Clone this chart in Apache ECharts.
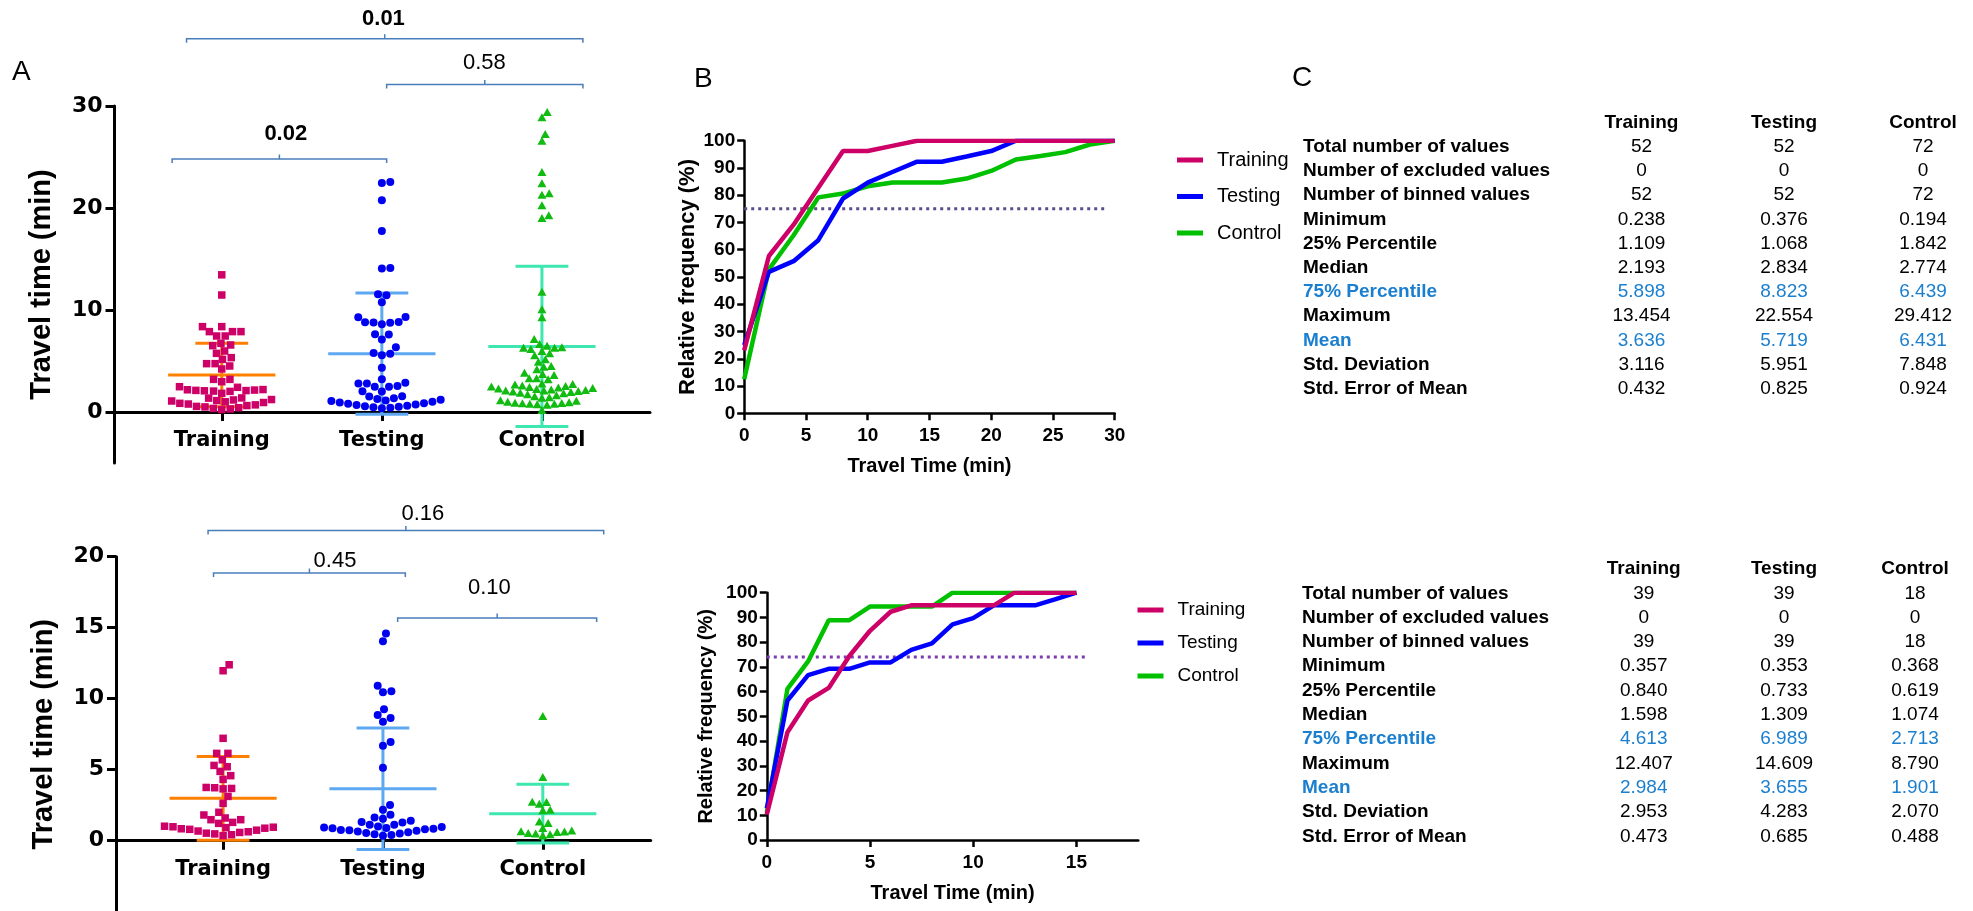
<!DOCTYPE html>
<html>
<head>
<meta charset="utf-8">
<title>Travel time</title>
<script src="https://cdn.jsdelivr.net/npm/echarts@6.0.0/dist/echarts.min.js"></script>
<style>
  html, body { margin: 0; padding: 0; background: #fff; }
  #chart { width: 1973px; height: 911px; }
</style>
</head>
<body>
<div id="chart"></div>
<script>
const groups = ['Training', 'Testing', 'Control']

// A (top): travel times in minutes, one value per trip
const topTraining = [13.45, 11.47, 8.37, 8.37, 7.88, 7.88, 7.88, 7.45, 7.45, 6.73, 6.57, 6.5, 5.98, 5.75, 5.33, 5.16,
  4.74, 4.74, 4.51, 4.22, 3.2, 3.2, 2.97, 2.48, 2.42, 2.2, 2.18, 2.15, 2.12, 2.1, 2.08, 2.05, 2.02, 1.83, 1.38, 1.36,
  1.22, 1.18, 1.12, 1.08, 1.0, 0.93, 0.85, 0.78, 0.7, 0.63, 0.55, 0.5, 0.42, 0.35, 0.3, 0.238]
const topTesting = [22.55, 22.45, 20.75, 17.75, 14.12, 14.06, 11.55, 11.45, 10.75, 9.31, 9.3, 8.82, 8.8, 8.78, 8.76, 8.6,
  7.62, 7.6, 7.12, 6.34, 5.78, 5.72, 5.56, 4.35, 3.2, 2.87, 2.8, 2.8, 2.55, 2.48, 2.47, 2.03, 2.02, 1.54, 1.53,
  1.34, 1.27, 1.2, 1.12, 1.07, 1.0, 0.94, 0.87, 0.8, 0.74, 0.68, 0.62, 0.57, 0.52, 0.47, 0.42, 0.376]
const topControl = [29.41, 28.9, 27.25, 26.6, 23.53, 22.42, 21.45, 21.3, 20.26, 19.3, 19.02, 11.8, 10.07, 9.28, 7.16,
  6.67, 6.5, 6.35, 6.3, 6.3, 6.18, 5.98, 5.75, 5.56, 5.16, 4.93, 4.51, 4.44, 4.18, 3.86, 3.72, 3.63, 3.3, 3.3, 3.2, 2.8,
  2.75, 2.7, 2.6, 2.55, 2.5, 2.45, 2.4, 2.35, 2.3, 2.25, 2.2, 2.15, 2.12, 2.1, 2.05, 2.0, 1.95, 1.88, 1.84,
  1.75, 1.65, 1.55, 1.45, 1.4, 1.15, 1.1, 1.0, 0.95, 0.9, 0.88, 0.85, 0.82, 0.8, 0.75, 0.72, 0.194]

// A (bottom)
const bottomTraining = [12.39, 11.97, 7.21, 6.15, 6.15, 5.7, 5.3, 5.21, 4.88, 4.58, 4.32, 3.75, 3.73, 3.68, 3.65, 3.12,
  2.63, 2.0, 1.81, 1.6, 1.48, 1.48, 1.29, 1.22,
  1.02, 0.98, 0.95, 0.92, 0.88, 0.84, 0.8, 0.74, 0.68, 0.63, 0.58, 0.53, 0.48, 0.42, 0.357]
const bottomTesting = [14.6, 14.04, 10.92, 10.52, 10.45, 9.25, 8.85, 8.64, 8.38, 6.95, 6.69, 5.14, 2.51, 2.18, 1.83,
  1.64, 1.55, 1.41, 1.31, 1.29, 1.13, 1.13,
  1.0, 0.96, 0.93, 0.9, 0.87, 0.84, 0.8, 0.76, 0.73, 0.7, 0.65, 0.6, 0.55, 0.5, 0.45, 0.4, 0.353]
const bottomControl = [8.79, 4.48, 2.75, 2.72, 2.6, 2.18, 2.14, 1.35, 1.25, 0.89, 0.72, 0.66, 0.64, 0.62, 0.55, 0.5,
  0.45, 0.368]

// p-value brackets: [x from, x to, y] and label position [x, y], in data units
const bracketTextTop = ['0.01', '0.58', '0.02']
const bracketSpanTop = [[0.78, 3.256, 36.6], [2.03, 3.256, 32.1], [0.69, 2.03, 24.8]]
const bracketLabelTop = [[2.01, 38.5], [2.64, 34.25], [1.4, 27.3]]
const bracketTextBottom = ['0.16', '0.45', '0.10']
const bracketSpanBottom = [[0.906, 3.381, 21.85], [0.94, 2.14, 18.85], [2.092, 3.337, 15.68]]
const bracketLabelBottom = [[2.25, 23.0], [1.7, 19.72], [2.666, 17.82]]

const ticksTopA = [0, 10, 20, 30]
const ticksBottomA = [0, 5, 10, 15, 20]
const ticksBottomB = [0, 5, 10, 15]

// B: cumulative relative frequency (%)
const binsTop = [0, 2, 4, 6, 8, 10, 12, 14, 16, 18, 20, 22, 24, 26, 28, 30]
const cumTopTraining = [23.1, 57.7, 69.2, 82.7, 96.2, 96.2, 98.1, 100, 100, 100, 100, 100, 100, 100, 100, 100]
const cumTopTesting = [25.0, 51.9, 55.8, 63.5, 78.8, 84.6, 88.5, 92.3, 92.3, 94.2, 96.2, 100, 100, 100, 100, 100]
const cumTopControl = [12.5, 52.8, 65.3, 79.2, 80.6, 83.3, 84.7, 84.7, 84.7, 86.1, 88.9, 93.1, 94.4, 95.8, 98.6, 100]
const binsBottom = [0, 1, 2, 3, 4, 5, 6, 7, 8, 9, 10, 11, 12, 13, 14, 15]
const cumBottomTraining = [10.3, 43.6, 56.4, 61.5, 74.4, 84.6, 92.3, 94.9, 94.9, 94.9, 94.9, 94.9, 100, 100, 100, 100]
const cumBottomTesting = [12.8, 56.4, 66.7, 69.2, 69.2, 71.8, 71.8, 76.9, 79.5, 87.2, 89.7, 94.9, 94.9, 94.9, 97.4, 100]
const cumBottomControl = [11.1, 61.1, 72.2, 88.9, 88.9, 94.4, 94.4, 94.4, 94.4, 100, 100, 100, 100, 100, 100, 100]
const refTop = [75, 29.2] // 75 % level, drawn up to x = 29.2
const refBottom = [74, 15.6]

// C: descriptive statistics
const statLabels = ['Total number of values', 'Number of excluded values', 'Number of binned values', 'Minimum',
  '25% Percentile', 'Median', '75% Percentile', 'Maximum', 'Mean', 'Std. Deviation', 'Std. Error of Mean']
const highlighted = ['75% Percentile', 'Mean']
const statsTopTraining = ['52', '0', '52', '0.238', '1.109', '2.193', '5.898', '13.454', '3.636', '3.116', '0.432']
const statsTopTesting = ['52', '0', '52', '0.376', '1.068', '2.834', '8.823', '22.554', '5.719', '5.951', '0.825']
const statsTopControl = ['72', '0', '72', '0.194', '1.842', '2.774', '6.439', '29.412', '6.431', '7.848', '0.924']
const statsBottomTraining = ['39', '0', '39', '0.357', '0.840', '1.598', '4.613', '12.407', '2.984', '2.953', '0.473']
const statsBottomTesting = ['39', '0', '39', '0.353', '0.733', '1.309', '6.989', '14.609', '3.655', '4.283', '0.685']
const statsBottomControl = ['18', '0', '18', '0.368', '0.619', '1.074', '2.713', '8.790', '1.901', '2.070', '0.488']

const pointColors = ['#cc0066', '#0000f0', '#11bb11']
const lineColors = ['#cc0066', '#0000ff', '#00c000']
const barColors = ['#ff8000', '#5ea8f2', '#3ee6b0']
const symbols = [['rect', 7.5], ['circle', 8], ['triangle', [9, 8]]]
const spacing = [8.5, 8.5, 7.4] // swarm spacing per group, px

const XMIN = 0.33
const XMAX = 3.675
const gridA = [
  { left: 114.5, top: 106, width: 535.5, height: 357, ymin: -5, ymax: 30 },
  { left: 116, top: 556.7, width: 534.7, height: 355, ymin: -5, ymax: 20 }
]

// beeswarm: spread points sideways so symbols do not overlap
function swarm (values, gi, cat) {
  const g = gridA[gi]
  const pxX = g.width / (XMAX - XMIN)
  const pxY = g.height / (g.ymax - g.ymin)
  const d = spacing[cat - 1]
  const placed = []
  values.slice().sort((a, b) => a - b).forEach(v => {
    const y = v * pxY
    const near = placed.filter(p => Math.abs(p.y - y) < d)
    const cands = [0]
    near.forEach(p => {
      const dx = Math.sqrt(d * d - (p.y - y) * (p.y - y))
      cands.push(p.x + dx, p.x - dx)
    })
    cands.sort((a, b) => Math.abs(a) - Math.abs(b))
    const x = cands.find(c => near.every(p => (p.x - c) * (p.x - c) + (p.y - y) * (p.y - y) >= d * d - 0.01))
    placed.push({ x, y, v })
  })
  return placed.map(p => [cat + p.x / pxX, p.v])
}

function renderErrorBar (params, api) {
  const cat = api.value(0)
  const mean = api.value(1)
  const sd = api.value(2)
  const top = api.coord([cat, mean + sd])
  const bot = api.coord([cat, mean - sd])
  const mid = api.coord([cat, mean])
  const halfMean = api.size([0.335, 0])[0]
  const halfCap = api.size([0.165, 0])[0]
  const style = { stroke: barColors[params.dataIndex], lineWidth: 3 }
  return {
    type: 'group',
    children: [
      { type: 'line', shape: { x1: top[0], y1: top[1], x2: bot[0], y2: bot[1] }, style },
      { type: 'line', shape: { x1: top[0] - halfCap, y1: top[1], x2: top[0] + halfCap, y2: top[1] }, style },
      { type: 'line', shape: { x1: bot[0] - halfCap, y1: bot[1], x2: bot[0] + halfCap, y2: bot[1] }, style },
      { type: 'line', shape: { x1: mid[0] - halfMean, y1: mid[1], x2: mid[0] + halfMean, y2: mid[1] }, style }
    ]
  }
}

function bracketRenderer (texts) {
  return function (params, api) {
    const a = api.coord([api.value(0), api.value(2)])
    const b = api.coord([api.value(1), api.value(2)])
    const lab = api.coord([api.value(3), api.value(4)])
    const mid = (a[0] + b[0]) / 2
    const text = texts[params.dataIndex]
    const stroke = { stroke: '#4a7ebb', lineWidth: 1.5, fill: null }
    return {
      type: 'group',
      children: [
        { type: 'polyline', shape: { points: [[a[0], a[1] + 4], a, b, [b[0], b[1] + 4]] }, style: stroke },
        { type: 'line', shape: { x1: mid, y1: a[1], x2: mid, y2: a[1] - 4.5 }, style: stroke },
        {
          type: 'text',
          x: lab[0],
          y: lab[1],
          style: {
            text,
            fill: '#000',
            fontFamily: 'Liberation Sans',
            fontSize: 22,
            fontWeight: Number(text) < 0.05 ? 'bold' : 'normal',
            align: 'center',
            verticalAlign: 'middle'
          }
        }
      ]
    }
  }
}

function statBars (training, testing, control) {
  return [training, testing, control].map((s, i) => [i + 1, Number(s[8]), Number(s[9])])
}

const axisLine = { show: true, onZero: false, lineStyle: { color: '#000', width: 3 } }
const tickA = { show: true, length: 9, lineStyle: { color: '#000', width: 3 } }
const tickB = { show: true, length: 7, lineStyle: { color: '#000', width: 2.5 } }
const labelA = { color: '#000', fontFamily: 'DejaVu Sans', fontWeight: 'bold', fontSize: 22 }
const labelB = { color: '#000', fontFamily: 'Liberation Sans', fontWeight: 'bold', fontSize: 19 }

function axisA (gi, ticks) {
  return {
    type: 'value',
    gridIndex: gi,
    min: gridA[gi].ymin,
    max: gridA[gi].ymax,
    axisLine,
    axisTick: Object.assign({ customValues: ticks }, tickA),
    axisLabel: Object.assign({ customValues: ticks, margin: 12 }, labelA),
    splitLine: { show: false },
    name: 'Travel time (min)',
    nameLocation: 'middle',
    nameGap: 58,
    nameTextStyle: { color: '#000', fontFamily: 'Liberation Sans', fontWeight: 'bold', fontSize: 29 }
  }
}

// category axis drawn where y = 0, lifted up from the bottom of the grid
function catAxis (gi) {
  const g = gridA[gi]
  return {
    type: 'value',
    gridIndex: gi,
    min: XMIN,
    max: XMAX,
    offset: g.ymin * g.height / (g.ymax - g.ymin),
    axisLine: { show: true, onZero: false, lineStyle: { color: '#000', width: 3 } },
    axisTick: Object.assign({ customValues: [1, 2, 3] }, tickA),
    axisLabel: Object.assign({
      customValues: [1, 2, 3],
      margin: 18,
      formatter: v => groups[Math.round(v) - 1]
    }, labelA, { fontSize: 21 }),
    splitLine: { show: false }
  }
}

function freqAxis (gi, size, gap) {
  return {
    type: 'value',
    gridIndex: gi,
    min: 0,
    max: 100,
    interval: 10,
    axisLine: { show: true, onZero: false, lineStyle: { color: '#000', width: 2.5 } },
    axisTick: tickB,
    axisLabel: Object.assign({ margin: 9 }, labelB),
    splitLine: { show: false },
    name: 'Relative frequency (%)',
    nameLocation: 'middle',
    nameGap: gap,
    nameTextStyle: { color: '#000', fontFamily: 'Liberation Sans', fontWeight: 'bold', fontSize: size }
  }
}

function timeAxis (gi, max, ticks) {
  const ax = {
    type: 'value',
    gridIndex: gi,
    min: 0,
    max,
    axisLine: { show: true, onZero: false, lineStyle: { color: '#000', width: 2.5 } },
    axisTick: Object.assign({}, tickB),
    axisLabel: Object.assign({ margin: 13 }, labelB),
    splitLine: { show: false },
    name: 'Travel Time (min)',
    nameLocation: 'middle',
    nameGap: 43,
    nameTextStyle: { color: '#000', fontFamily: 'Liberation Sans', fontWeight: 'bold', fontSize: 20 }
  }
  if (ticks) {
    ax.axisTick.customValues = ticks
    ax.axisLabel.customValues = ticks
  } else {
    ax.interval = 5
  }
  return ax
}

function scatterSeries (gi, sets, tag) {
  return sets.map((vals, i) => ({
    type: 'scatter',
    name: groups[i] + ' ' + tag,
    xAxisIndex: gi,
    yAxisIndex: gi,
    symbol: symbols[i][0],
    symbolSize: symbols[i][1],
    itemStyle: { color: pointColors[i], opacity: 1 },
    z: 4,
    data: swarm(vals, gi, i + 1)
  }))
}

function curveSeries (gi, bins, sets) {
  // drawn Control first so Training ends up on top
  return [2, 1, 0].map(i => ({
    type: 'line',
    name: groups[i],
    xAxisIndex: gi,
    yAxisIndex: gi,
    showSymbol: false,
    color: lineColors[i],
    itemStyle: { color: lineColors[i] },
    lineStyle: { color: lineColors[i], width: 4.5 },
    z: 3,
    data: bins.map((b, k) => [b, sets[i][k]])
  }))
}

function refSeries (gi, ref, color) {
  return {
    type: 'line',
    name: 'ref' + gi,
    xAxisIndex: gi,
    yAxisIndex: gi,
    showSymbol: false,
    lineStyle: { color, width: 3, type: [3, 4] },
    z: 2,
    data: [[0, ref[0]], [ref[1], ref[0]]]
  }
}

function legendFor (left, top, gap, size) {
  return {
    data: groups,
    orient: 'vertical',
    left,
    top,
    itemWidth: 26,
    itemHeight: 5,
    itemGap: gap,
    icon: 'rect',
    selectedMode: false,
    textStyle: { color: '#000', fontFamily: 'Liberation Sans', fontSize: size, lineHeight: 22, padding: [0, 0, 0, 9] }
  }
}

function tableTexts (headerY, firstY, step, labelX, cols, columns) {
  const out = []
  const font = { fontFamily: 'Liberation Sans', fontSize: 19 }
  groups.forEach((g, c) => {
    out.push({ type: 'text', x: cols[c], y: headerY,
      style: Object.assign({ text: g, fill: '#000', fontWeight: 'bold', align: 'center', verticalAlign: 'middle' }, font) })
  })
  statLabels.forEach((lab, r) => {
    const fill = highlighted.includes(lab) ? '#1b7fcf' : '#000'
    const y = firstY + r * step
    out.push({ type: 'text', x: labelX, y,
      style: Object.assign({ text: lab, fill, fontWeight: 'bold', align: 'left', verticalAlign: 'middle' }, font) })
    columns.forEach((col, c) => {
      out.push({ type: 'text', x: cols[c], y,
        style: Object.assign({ text: col[r], fill, align: 'center', verticalAlign: 'middle' }, font) })
    })
  })
  return out
}

function panelLetter (text, x, y) {
  return { type: 'text', x, y, style: { text, fill: '#000', fontFamily: 'Liberation Sans', fontSize: 28, verticalAlign: 'middle' } }
}

const option = {
  animation: false,
  backgroundColor: '#fff',
  grid: [
    { left: gridA[0].left, top: gridA[0].top, width: gridA[0].width, height: gridA[0].height, containLabel: false, outerBoundsMode: 'none' },
    { left: gridA[1].left, top: gridA[1].top, width: gridA[1].width, height: gridA[1].height, containLabel: false, outerBoundsMode: 'none' },
    { left: 744.2, top: 140.7, width: 370.5, height: 272.6, containLabel: false, outerBoundsMode: 'none' },
    { left: 766.8, top: 592.7, width: 371.5, height: 247.3, containLabel: false, outerBoundsMode: 'none' }
  ],
  xAxis: [catAxis(0), catAxis(1), timeAxis(2, 30), timeAxis(3, 18, ticksBottomB)],
  yAxis: [axisA(0, ticksTopA), axisA(1, ticksBottomA), freqAxis(2, 22, 45), freqAxis(3, 20, 50)],
  legend: [legendFor(1172, 144, 14.5, 20), legendFor(1132.5, 594, 11, 19)],
  series: [
    {
      type: 'custom',
      name: 'sd top',
      xAxisIndex: 0,
      yAxisIndex: 0,
      z: 2,
      encode: { x: 0, y: 1 },
      renderItem: renderErrorBar,
      data: statBars(statsTopTraining, statsTopTesting, statsTopControl)
    },
    {
      type: 'custom',
      name: 'sd bottom',
      xAxisIndex: 1,
      yAxisIndex: 1,
      z: 2,
      encode: { x: 0, y: 1 },
      renderItem: renderErrorBar,
      data: statBars(statsBottomTraining, statsBottomTesting, statsBottomControl)
    },
    ...scatterSeries(0, [topTraining, topTesting, topControl], 'top'),
    ...scatterSeries(1, [bottomTraining, bottomTesting, bottomControl], 'bottom'),
    {
      type: 'custom',
      name: 'p top',
      xAxisIndex: 0,
      yAxisIndex: 0,
      clip: false,
      encode: { x: [0, 1, 3], y: [2, 4] },
      renderItem: bracketRenderer(bracketTextTop),
      data: bracketSpanTop.map((s, i) => s.concat(bracketLabelTop[i]))
    },
    {
      type: 'custom',
      name: 'p bottom',
      xAxisIndex: 1,
      yAxisIndex: 1,
      clip: false,
      encode: { x: [0, 1, 3], y: [2, 4] },
      renderItem: bracketRenderer(bracketTextBottom),
      data: bracketSpanBottom.map((s, i) => s.concat(bracketLabelBottom[i]))
    },
    refSeries(2, refTop, '#5b4c8c'),
    refSeries(3, refBottom, '#7a3cb0'),
    ...curveSeries(2, binsTop, [cumTopTraining, cumTopTesting, cumTopControl]),
    ...curveSeries(3, binsBottom, [cumBottomTraining, cumBottomTesting, cumBottomControl])
  ],
  graphic: {
    elements: [
      panelLetter('A', 12, 72),
      panelLetter('B', 694, 79),
      panelLetter('C', 1292, 78),
      ...tableTexts(122.7, 146.7, 24.2, 1303, [1641.5, 1784, 1923],
        [statsTopTraining, statsTopTesting, statsTopControl]),
      ...tableTexts(568.3, 593.3, 24.3, 1302, [1643.7, 1784, 1915],
        [statsBottomTraining, statsBottomTesting, statsBottomControl])
    ]
  }
}

const chart = echarts.init(document.getElementById('chart'))
chart.setOption(option)
window.addEventListener('resize', () => chart.resize())
</script>
</body>
</html>
